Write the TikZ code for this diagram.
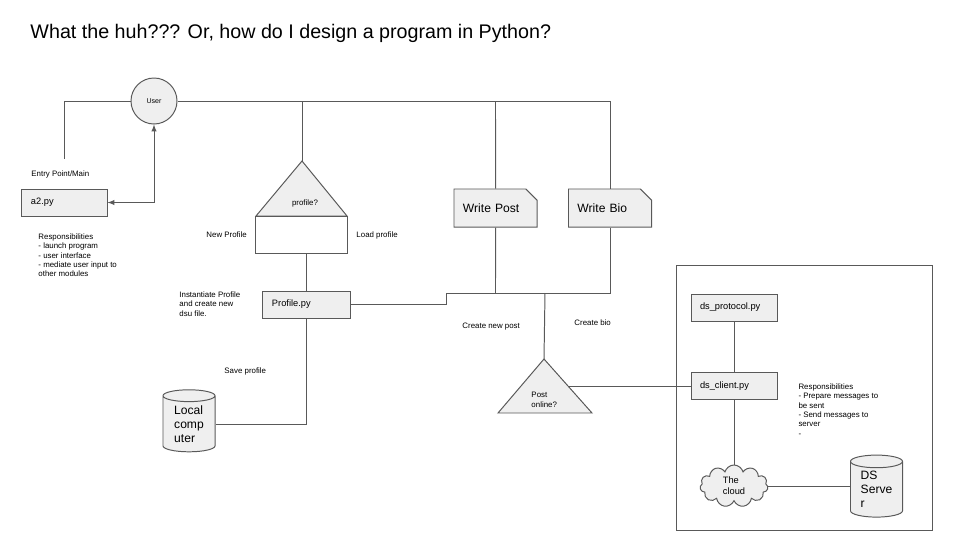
\documentclass[tikz,border=0pt]{standalone}
\usepackage{fontspec}
\setmainfont{Liberation Sans}
\usetikzlibrary{shapes.geometric,shapes.misc,shapes.symbols}
\definecolor{linegray}{RGB}{89,89,89}
\definecolor{boxgray}{RGB}{239,239,239}
\tikzset{
  lbl/.style={font=\fontsize{5.6}{6.7}\selectfont, inner sep=0pt, align=left},
  pybox/.style={draw, fill=boxgray, minimum height=0.675cm, text width=#1, inner xsep=0.225cm, align=left, font=\fontsize{6.6}{8}\selectfont},
  notebox/.style={draw, fill=boxgray, chamfered rectangle, chamfered rectangle corners=north east, chamfered rectangle xsep=0.13cm, chamfered rectangle ysep=0.15cm, minimum height=0.95cm, text width=1.625cm, inner xsep=0.095cm, align=left, font=\fontsize{8.6}{10}\selectfont},
  dbase/.style={draw, fill=boxgray, cylinder, shape border rotate=90, aspect=0.4, minimum width=1.3cm, minimum height=1.55cm, inner sep=0pt, align=left, font=\fontsize{8.6}{10}\selectfont},
  tri/.style={draw, fill=boxgray}
}
\begin{document}
\begin{tikzpicture}[x=0.025cm,y=-0.025cm,line width=0.7pt,color=linegray,every node/.append style={text=black},>=latex]
	\useasboundingbox (0,0) rectangle (960,540);
	\node[anchor=base west, inner sep=0pt, font=\fontsize{14}{17}\selectfont] (title) at (30,38) {What the huh??? Or, how do I design a program in Python?};
	% user and a2.py
	\node[draw, circle, fill=boxgray, minimum size=1.15cm, inner sep=0pt, font=\fontsize{5}{6}\selectfont] (user) at (154,101) {User};
	\node[lbl, anchor=west] (entry) at (31,174) {Entry Point/Main};
	\node[pybox=1.675cm] (a2) at (64.5,202.5) {a2.py};
	\node[lbl, anchor=north west] (a2resp) at (38,233) {Responsibilities\\- launch program\\- user interface\\- mediate user input to\\other modules};
	\coordinate (entryEnd) at (64,159);
	\draw (user) -| (entryEnd);
	\draw[<->] (a2) -| (user);
	% profile
	\draw[tri] (302,161) coordinate (profApex) -- (347,216) -- (256,216) -- cycle;
	\node[lbl] (profq) at (305,203) {profile?};
	\node[draw, minimum width=2.275cm, minimum height=0.925cm, inner sep=0pt] (choice) at (301.5,234.5) {};
	\node[lbl, anchor=west] (newprof) at (206,235) {New Profile};
	\node[lbl, anchor=west] (loadprof) at (356,235) {Load profile};
	\node[pybox=1.725cm] (profpy) at (306.5,304.5) {Profile.py};
	\node[lbl, anchor=north west] (inst) at (179,291) {Instantiate Profile\\and create new\\dsu file.};
	\node[lbl, anchor=west] (save) at (224,371) {Save profile};
	\node[dbase] (local) at (189,424) {Local\\comp\\uter};
	\draw (profApex |- user) -- (profApex);
	\draw (profpy.north) -- (profpy.north |- choice.south);
	\draw (profpy) |- (local);
	% post and bio
	\node[notebox] (post) at (495.5,208) {Write Post};
	\node[notebox] (bio) at (610,208) {Write Bio};
	\coordinate (merge) at (545,293);
	\coordinate (step) at (446,293);
	\draw (user) -| (bio);
	\draw (post.north |- user) -- (post);
	\draw (post) -- (post |- merge);
	\draw (bio) |- (merge);
	\draw (profpy) -| (step) -- (merge);
	\draw[tri] (544,359) coordinate (onlineApex) -- (592,413) -- (498,413) -- cycle;
	\coordinate (onlineSide) at (569,386);
	\node[lbl, anchor=north west] (onlineq) at (531,392) {Post\\online?};
	\draw (merge) -- (onlineApex);
	\node[lbl, anchor=west] (newpost) at (462,327) {Create new post};
	\node[lbl, anchor=west] (newbio) at (574,323) {Create bio};
	% ds modules
	\node[draw, minimum width=6.375cm, minimum height=6.6cm, inner sep=0pt] (dsframe) at (804.5,398) {};
	\node[pybox=1.7cm] (proto) at (734,307.5) {ds\_protocol.py};
	\node[pybox=1.7cm] (client) at (734,386) {ds\_client.py};
	\node[lbl, anchor=north west] (dsresp) at (798,383) {Responsibilities\\- Prepare messages to\\be sent\\- Send messages to\\server\\-};
	\node[cloud, draw, fill=boxgray, cloud puffs=11, cloud ignores aspect, minimum width=1.7cm, minimum height=1.05cm, inner sep=0pt, align=left, font=\fontsize{6.6}{8}\selectfont] (cloud) at (734,486) {The\\cloud};
	\node[dbase] (server) at (876.5,489.5) {DS\\Serve\\r};
	\draw (proto) -- (client);
	\draw (client) -- (cloud);
	\draw (onlineSide) -- (client);
	\draw (cloud.east) -- (server.west |- cloud.east);
\end{tikzpicture}
\end{document}
